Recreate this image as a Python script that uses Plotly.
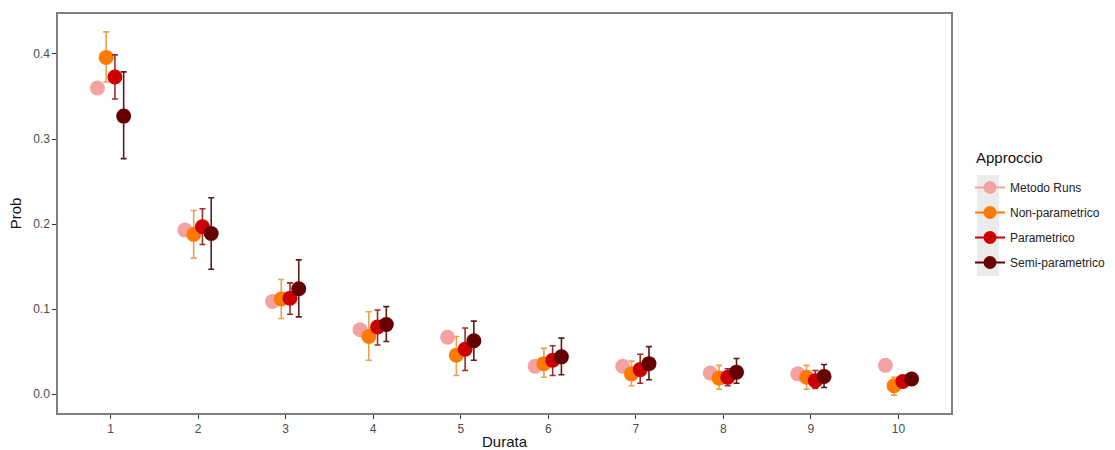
import plotly.graph_objects as go

durata = [1, 2, 3, 4, 5, 6, 7, 8, 9, 10]
series_names = ["Metodo Runs", "Non-parametrico", "Parametrico", "Semi-parametrico"]

runs = [0.360, 0.193, 0.109, 0.076, 0.067, 0.033, 0.033, 0.025, 0.024, 0.034]

nonpar = [0.396, 0.188, 0.112, 0.068, 0.046, 0.036, 0.024, 0.019, 0.020, 0.010]
nonpar_lo = [0.367, 0.160, 0.089, 0.040, 0.022, 0.020, 0.010, 0.006, 0.006, -0.001]
nonpar_hi = [0.426, 0.216, 0.135, 0.097, 0.068, 0.054, 0.039, 0.034, 0.034, 0.020]

par = [0.373, 0.197, 0.113, 0.079, 0.053, 0.040, 0.029, 0.020, 0.016, 0.015]
par_lo = [0.347, 0.176, 0.094, 0.058, 0.028, 0.022, 0.013, 0.010, 0.007, 0.009]
par_hi = [0.399, 0.218, 0.131, 0.099, 0.078, 0.057, 0.047, 0.030, 0.028, 0.021]

semi = [0.327, 0.189, 0.124, 0.082, 0.063, 0.044, 0.036, 0.026, 0.021, 0.018]
semi_lo = [0.277, 0.147, 0.091, 0.062, 0.040, 0.023, 0.017, 0.013, 0.008, 0.012]
semi_hi = [0.379, 0.231, 0.158, 0.103, 0.086, 0.066, 0.056, 0.042, 0.035, 0.024]

values = [runs, nonpar, par, semi]
lows = [None, nonpar_lo, par_lo, semi_lo]
highs = [None, nonpar_hi, par_hi, semi_hi]

point_colors = ["#F4A1A1", "#FF7A00", "#CC0000", "#660000"]
err_colors = [None, "#E9A24C", "#9E2B2B", "#5A1C1C"]

dodge_width = 0.4
n = len(series_names)

fig = go.Figure()
for i, name in enumerate(series_names):
    offset = -dodge_width / 2 + dodge_width / n * (i + 0.5)
    xs = [d + offset for d in durata]
    ys = values[i]
    err = None
    if lows[i] is not None:
        err = dict(
            type="data",
            symmetric=False,
            array=[h - v for h, v in zip(highs[i], ys)],
            arrayminus=[v - l for v, l in zip(ys, lows[i])],
            color=err_colors[i],
            thickness=1.6,
            width=3,
        )
    fig.add_trace(go.Scatter(
        x=xs, y=ys, mode="markers", name=name, legendgroup=name,
        showlegend=False,
        marker=dict(size=15, color=point_colors[i], line=dict(width=0)),
        error_y=err,
    ))
    # legend-only key: point with a horizontal line through it
    fig.add_trace(go.Scatter(
        x=[None], y=[None], mode="lines+markers", name=name, legendgroup=name,
        marker=dict(size=13, color=point_colors[i]),
        line=dict(color=point_colors[i], width=2),
        showlegend=True,
    ))

axis_color = "#7F7F7F"
PL, PR, PT, PB = 58, 951, 14, 413
pw, ph = PR - PL, PB - PT

fig.update_layout(
    width=1115, height=450,
    margin=dict(l=PL, r=1115 - PR, t=PT, b=450 - PB, autoexpand=False),
    paper_bgcolor="white", plot_bgcolor="white",
    font=dict(family="Liberation Sans, Arial, sans-serif", color="#4D4D4D"),
    xaxis=dict(
        range=[0.4, 10.6], tickmode="array", tickvals=durata,
        ticktext=[str(d) for d in durata],
        showgrid=False, zeroline=False, automargin=False,
        showline=True, linecolor=axis_color, linewidth=1.5, mirror=True,
        ticks="outside", ticklen=4, tickcolor="#333333", tickwidth=1,
        tickfont=dict(size=12, color="#4D4D4D"),
        title=dict(text="Durata", font=dict(size=15, color="#111111"), standoff=5),
    ),
    yaxis=dict(
        range=[-0.022, 0.447], tickmode="array", tickvals=[0, 0.1, 0.2, 0.3, 0.4],
        ticktext=["0.0", "0.1", "0.2", "0.3", "0.4"],
        showgrid=False, zeroline=False, automargin=False,
        showline=True, linecolor=axis_color, linewidth=1.5, mirror=True,
        ticks="outside", ticklen=4, tickcolor="#333333", tickwidth=1,
        tickfont=dict(size=12, color="#4D4D4D"),
        title=dict(text="Prob", font=dict(size=15, color="#111111"), standoff=8),
    ),
    legend=dict(
        x=(970 - PL) / pw, xanchor="left", y=(PB - 173) / ph, yanchor="top",
        bgcolor="rgba(0,0,0,0)", borderwidth=0,
        font=dict(size=12, color="#222222"),
        tracegroupgap=6, itemwidth=30,
    ),
    annotations=[dict(
        text="Approccio", xref="paper", yref="paper",
        x=(974 - PL) / pw, xanchor="left", y=(PB - 157) / ph, yanchor="middle",
        showarrow=False, font=dict(size=15, color="#111111"),
    )],
    shapes=[dict(
        type="rect", xref="paper", yref="paper",
        x0=(977 - PL) / pw, x1=(999 - PL) / pw,
        y0=(PB - 276) / ph, y1=(PB - 175) / ph,
        fillcolor="#EBEBEB", line=dict(width=0), layer="below",
    )],
)

fig.write_html("out.html")
